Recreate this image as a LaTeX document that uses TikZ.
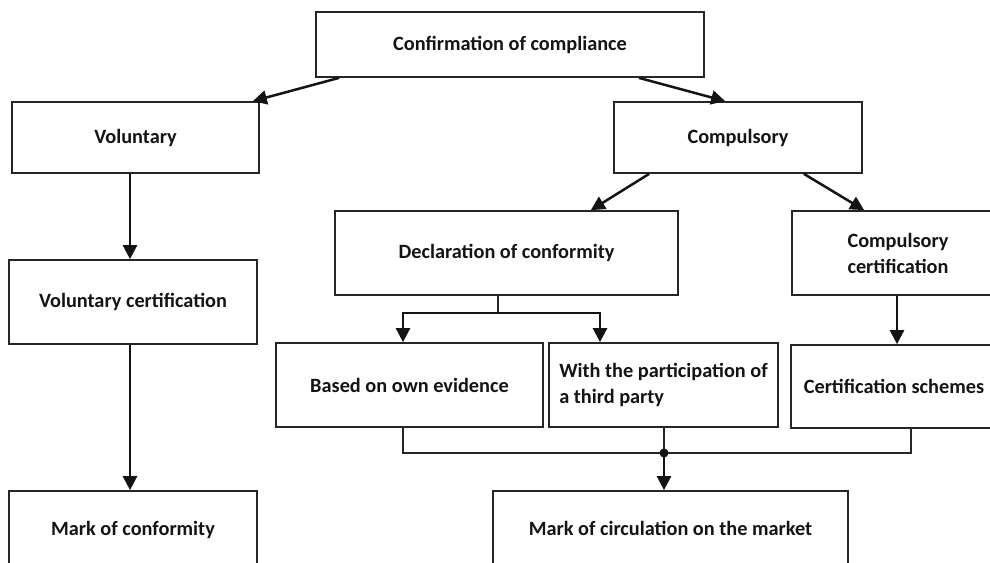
\documentclass[tikz,border=0pt]{standalone}
\usepackage{fontspec}
\setmainfont{Carlito}
\usetikzlibrary{arrows.meta,calc}
\begin{document}
\begin{tikzpicture}[x=1pt,y=-1pt,
  box/.style={draw=black!85, line width=1.7pt, fill=white, text=black!92,
    font=\fontsize{20.3}{26}\selectfont\bfseries, inner sep=0pt, align=center},
  arr/.style={line width=2.5pt, draw=black!92, -{Triangle[length=14pt,width=14pt]}},
  thin/.style={line width=1.6pt, draw=black!85}]
\useasboundingbox (0,0) rectangle (990,562);
\clip (0,0) rectangle (990,562);
\fill[white] (0,0) rectangle (990,562);
% boxes
\node[box, minimum width=388pt, minimum height=65pt] (conf) at (510,44.5) {Confirmation of compliance};
\node[box, minimum width=247pt, minimum height=71pt] (vol) at (135.5,137.5) {Voluntary};
\node[box, minimum width=248pt, minimum height=71pt] (comp) at (738,137.5) {Compulsory};
\node[box, minimum width=248pt, minimum height=84pt] (vc) at (133,302) {Voluntary certification};
\node[box, minimum width=248pt, minimum height=78pt] (moc) at (133,530) {Mark of conformity};
\node[box, minimum width=343pt, minimum height=84pt] (dec) at (506.5,253) {Declaration of conformity};
\node[box, minimum width=212pt, minimum height=84pt] (cc) at (898,253) {Compulsory\\certification};
\node[box, minimum width=267pt, minimum height=84pt] (own) at (409.5,385) {Based on own evidence};
\node[box, minimum width=229pt, minimum height=84pt, align=left] (third) at (663.5,385) {With the participation of\\a third party};
\node[box, minimum width=206pt, minimum height=83pt] (cs) at (894,386.5) {Certification schemes};
\node[box, minimum width=355pt, minimum height=74pt] (mcm) at (670.5,528) {Mark of circulation on the market};
% connectors
\draw[arr] ([xshift=24pt]conf.south west) -- ([xshift=-7pt]vol.north east);
\draw[arr] ([xshift=-66pt]conf.south east) -- ([xshift=112pt]comp.north west);
\draw[arr] ([xshift=36pt]comp.south west) -- ([xshift=-88pt]dec.north east);
\draw[arr] ([xshift=-59pt]comp.south east) -- ([xshift=73pt]cc.north west);
\draw[arr] ([xshift=-5.5pt]vol.south) -- ([xshift=-5.5pt]vol.south |- vc.north);
\draw[arr] ([xshift=-3pt]vc.south) -- ([xshift=-3pt]vc.south |- moc.north);
\draw[arr] ([xshift=-1pt]cc.south) -- ([xshift=-1pt]cc.south |- cs.north);
% declaration split
\coordinate (dj) at (498,313);
\draw[thin] (dec.south -| dj) -- (dj);
\draw[arr] (dj) -| ([xshift=-6.5pt]own.north);
\draw[arr] (dj) -| ([xshift=-63.5pt]third.north);
% merge
\coordinate (mj) at (664,453);
\draw[thin] ([xshift=-6.5pt]own.south) |- (mj);
\draw[thin] (third.south -| mj) -- (mj);
\draw[thin] ([xshift=17pt]cs.south) |- (mj);
\fill[black!92] (mj) circle (4.5pt);
\draw[arr] (mj) -- (mj |- mcm.north);
\end{tikzpicture}
\end{document}
